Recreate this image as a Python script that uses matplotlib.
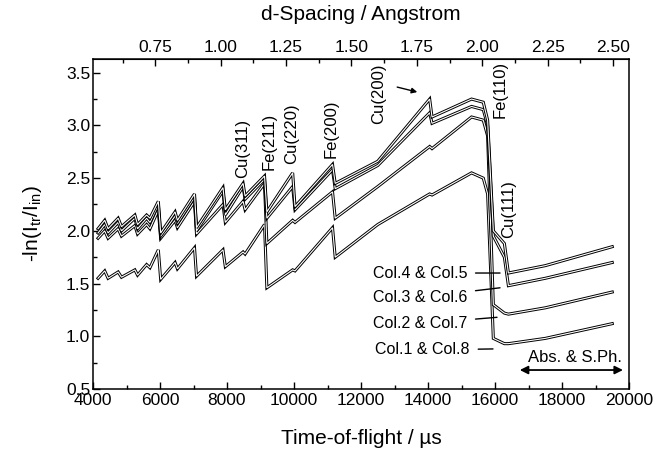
import numpy as np
import matplotlib

matplotlib.use('Agg')
import matplotlib.pyplot as plt
from matplotlib.ticker import MultipleLocator, FormatStrFormatter

plt.rcParams['font.family'] = ['Liberation Sans', 'DejaVu Sans']
plt.rcParams['mathtext.fontset'] = 'custom'
plt.rcParams['mathtext.rm'] = 'Liberation Sans'
plt.rcParams['mathtext.it'] = 'Liberation Sans'

# time-of-flight breakpoints (us), shared by all curves
tof = [4150, 4350, 4450, 4750, 4850, 5250, 5330, 5600, 5700, 5950, 6020, 6450, 6520,
       7030, 7090, 7880, 7950, 8480, 8540, 9120, 9190, 9960, 10030, 11150, 11230,
       12500, 14050, 14120, 15300, 15650, 15780, 15950, 16280, 16400, 17500, 19500]

# -ln(I_tr/I_in) for each pair of columns
col_1_8 = [1.55, 1.62, 1.55, 1.61, 1.56, 1.63, 1.58, 1.68, 1.65, 1.82, 1.54, 1.70, 1.64,
           1.84, 1.57, 1.82, 1.66, 1.80, 1.78, 2.06, 1.46, 1.63, 1.62, 2.03, 1.75,
           2.06, 2.35, 2.34, 2.55, 2.50, 2.35, 0.98, 0.93, 0.93, 0.98, 1.12]
col_2_7 = [1.93, 2.00, 1.93, 2.02, 1.95, 2.05, 1.97, 2.06, 2.02, 2.20, 1.93, 2.10, 2.03,
           2.28, 1.97, 2.25, 2.08, 2.28, 2.20, 2.45, 1.88, 2.10, 2.08, 2.37, 2.12,
           2.42, 2.80, 2.78, 3.08, 3.05, 2.90, 1.30, 1.22, 1.21, 1.27, 1.42]
col_3_6 = [1.98, 2.06, 1.98, 2.08, 2.00, 2.12, 2.02, 2.12, 2.08, 2.25, 1.95, 2.14, 2.07,
           2.32, 2.00, 2.38, 2.15, 2.42, 2.30, 2.49, 2.12, 2.42, 2.20, 2.58, 2.40,
           2.62, 3.12, 3.02, 3.18, 3.15, 3.00, 1.95, 1.75, 1.48, 1.55, 1.70]
col_4_5 = [2.02, 2.10, 2.02, 2.12, 2.04, 2.15, 2.06, 2.15, 2.12, 2.28, 1.98, 2.18, 2.10,
           2.35, 2.03, 2.41, 2.20, 2.45, 2.33, 2.52, 2.18, 2.55, 2.23, 2.63, 2.45,
           2.66, 3.25, 3.08, 3.25, 3.22, 3.05, 2.00, 1.88, 1.60, 1.67, 1.85]

pairs = [col_1_8, col_2_7, col_3_6, col_4_5]
pair_labels = ['Col.1 & Col.8', 'Col.2 & Col.7', 'Col.3 & Col.6', 'Col.4 & Col.5']
# where each label sits and where its pointer touches the curve
label_pos = [(15250, 0.87), (15170, 1.12), (15170, 1.37), (15170, 1.60)]
pointer_tip = [(15940, 0.88), (16060, 1.18), (16150, 1.46), (16150, 1.60)]

# Bragg edge labels: name, tof, bottom of text
edges = ['Cu(311)', 'Fe(211)', 'Cu(220)', 'Fe(200)', 'Cu(200)', 'Fe(110)', 'Cu(111)']
edge_tof = [8463, 9254, 9925, 11119, 12522, 16150, 16403]
edge_y = [2.50, 2.58, 2.63, 2.69, 3.01, 3.07, 1.93]

TOF_PER_ANGSTROM = 7809.0

fig = plt.figure(figsize=(6.67, 4.53), dpi=100)
ax = fig.add_axes([93 / 667, 1 - 389 / 453, 536 / 667, 330 / 453])

# each pair drawn as a double line
for vals in pairs:
    ax.plot(tof, vals, color='black', lw=2.2, solid_joinstyle='miter')
    ax.plot(tof, vals, color='white', lw=0.8, solid_joinstyle='miter')

ax.set_xlim(4000, 20000)
ax.set_ylim(0.5, 3.63)
ax.xaxis.set_major_locator(MultipleLocator(2000))
ax.xaxis.set_minor_locator(MultipleLocator(1000))
ax.yaxis.set_major_locator(MultipleLocator(0.5))
ax.yaxis.set_minor_locator(MultipleLocator(0.25))
ax.yaxis.set_major_formatter(FormatStrFormatter('%.1f'))
ax.tick_params(which='both', direction='in', labelsize=12.5, right=False, top=False)
ax.tick_params(which='major', length=5, width=1, pad=2)
ax.tick_params(which='minor', length=3, width=1)
ax.tick_params(axis='x', which='major', pad=3)
for s in ax.spines.values():
    s.set_linewidth(1.1)

ax.set_xlabel('Time-of-flight / \u00b5s', fontsize=15, labelpad=15)
ax.set_ylabel(r'-ln(I$_{\rm tr}$/I$_{\rm in}$)', fontsize=15, labelpad=16)

# d-spacing axis on top
top = ax.secondary_xaxis('top', functions=(lambda t: t / TOF_PER_ANGSTROM,
                                           lambda d: d * TOF_PER_ANGSTROM))
top.xaxis.set_major_locator(MultipleLocator(0.25))
top.xaxis.set_minor_locator(MultipleLocator(0.125))
top.xaxis.set_major_formatter(FormatStrFormatter('%.2f'))
top.tick_params(which='both', direction='in', labelsize=12.5)
top.tick_params(which='major', length=5, width=1, pad=3)
top.tick_params(which='minor', length=3, width=1)
top.set_xlabel('d-Spacing / Angstrom', fontsize=15, labelpad=14)

for name, t, y in zip(edges, edge_tof, edge_y):
    ax.text(t, y, name, rotation=90, ha='center', va='bottom', fontsize=12)

# arrow pointing at the Cu(200) edge
ax.annotate('', xy=(13760, 3.31), xytext=(13000, 3.37),
            arrowprops=dict(arrowstyle='-|>', color='black', lw=1, mutation_scale=8))

for lab, pos, tip in zip(pair_labels, label_pos, pointer_tip):
    ax.annotate(lab, xy=tip, xytext=pos, ha='right', va='center', fontsize=11.5,
                arrowprops=dict(arrowstyle='-', color='black', lw=1, shrinkA=4, shrinkB=0))

ax.annotate('', xy=(19820, 0.68), xytext=(16740, 0.68),
            arrowprops=dict(arrowstyle='<|-|>', color='black', lw=1.3, mutation_scale=12,
                            shrinkA=0, shrinkB=0))
ax.text(18390, 0.80, 'Abs. & S.Ph.', ha='center', va='center', fontsize=12)

fig.savefig('out.png', dpi=100)
